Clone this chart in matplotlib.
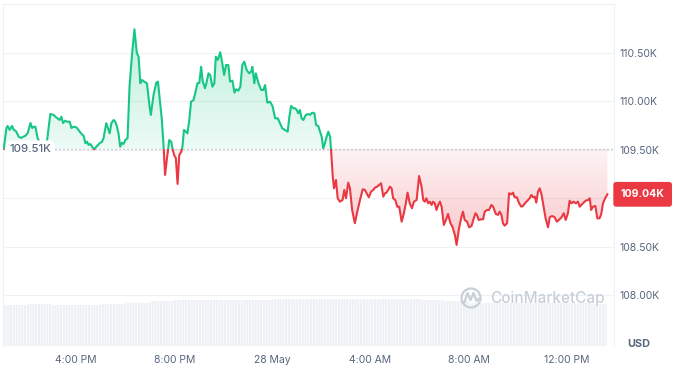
import numpy as np
import matplotlib
matplotlib.use('Agg')
import matplotlib.pyplot as plt
from matplotlib.path import Path
from matplotlib.patches import Rectangle, Circle
from matplotlib.lines import Line2D
from matplotlib.transforms import blended_transform_factory, Affine2D

plt.rcParams['font.family'] = ['Inter', 'DejaVu Sans']
plt.rcParams['hatch.linewidth'] = 0.5

# hora del dia (27 May = 0-24, 28 May = 24-48) y precio BTC en USD
hours = [13.04, 13.15, 13.20, 13.28, 13.38, 13.45, 13.52, 13.58, 13.65, 13.75,
         13.83, 13.92, 14.02, 14.13, 14.20, 14.26, 14.33, 14.42, 14.57, 14.70,
         14.81, 14.94, 15.08, 15.14, 15.21, 15.32, 15.39, 15.46, 15.55, 15.62,
         15.73, 15.80, 15.89, 16.00, 16.09, 16.19, 16.30, 16.37, 16.44, 16.50,
         16.57, 16.64, 16.73, 16.84, 16.95, 17.05, 17.11, 17.22, 17.27, 17.36,
         17.43, 17.52, 17.59, 17.66, 17.72, 17.79, 17.86, 17.93, 18.00, 18.09,
         18.17, 18.27, 18.37, 18.47, 18.54, 18.61, 18.68, 18.77, 18.88, 18.99,
         19.04, 19.15, 19.26, 19.33, 19.42, 19.49, 19.56, 19.62, 19.69, 19.79,
         19.87, 19.92, 19.99, 20.06, 20.13, 20.20, 20.28, 20.33, 20.39, 20.47,
         20.53, 20.60, 20.68, 20.78, 20.85, 20.94, 21.02, 21.09, 21.16, 21.25,
         21.32, 21.39, 21.46, 21.55, 21.63, 21.69, 21.77, 21.87, 21.93, 22.03,
         22.11, 22.20, 22.27, 22.37, 22.45, 22.52, 22.61, 22.69, 22.77, 22.85,
         22.95, 23.05, 23.13, 23.18, 23.26, 23.32, 23.43, 23.54, 23.63, 23.70,
         23.79, 23.90, 24.00, 24.11, 24.22, 24.31, 24.40, 24.51, 24.62, 24.69,
         24.76, 24.85, 24.92, 24.99, 25.05, 25.12, 25.19, 25.26, 25.36, 25.46,
         25.53, 25.62, 25.71, 25.78, 25.87, 25.94, 26.01, 26.07, 26.14, 26.21,
         26.28, 26.35, 26.39, 26.46, 26.51, 26.59, 26.66, 26.75, 26.86, 26.93,
         27.00, 27.09, 27.16, 27.25, 27.36, 27.46, 27.57, 27.68, 27.77, 27.84,
         27.93, 28.02, 28.11, 28.18, 28.27, 28.35, 28.43, 28.52, 28.59, 28.65,
         28.72, 28.79, 28.86, 28.92, 29.01, 29.09, 29.17, 29.27, 29.36, 29.44,
         29.51, 29.60, 29.69, 29.77, 29.88, 29.98, 30.08, 30.15, 30.21, 30.28,
         30.35, 30.42, 30.49, 30.55, 30.62, 30.69, 30.76, 30.83, 30.90, 30.99,
         31.10, 31.16, 31.26, 31.34, 31.44, 31.51, 31.61, 31.71, 31.77, 31.84,
         31.94, 32.02, 32.12, 32.21, 32.28, 32.34, 32.41, 32.52, 32.59, 32.66,
         32.75, 32.83, 32.93, 33.00, 33.11, 33.20, 33.27, 33.34, 33.40, 33.47,
         33.57, 33.65, 33.75, 33.81, 33.88, 33.97, 34.06, 34.15, 34.22, 34.32,
         34.40, 34.49, 34.56, 34.63, 34.70, 34.76, 34.83, 34.90, 34.97, 35.06,
         35.14, 35.24, 35.31, 35.40, 35.51, 35.60, 35.68, 35.78, 35.88, 35.96,
         36.05, 36.12, 36.19, 36.28, 36.37, 36.46, 36.53, 36.60, 36.66, 36.77,
         36.87, 36.94, 37.00, 37.07, 37.17, 37.25, 37.34, 37.41, 37.48, 37.57,
         37.66]

prices = [109510, 109725, 109746, 109705, 109746, 109705, 109697, 109674, 109635, 109622,
          109635, 109643, 109674, 109777, 109725, 109736, 109739, 109622, 109539, 109560,
          109601, 109870, 109860, 109842, 109829, 109808, 109842, 109777, 109801, 109790,
          109790, 109725, 109739, 109732, 109705, 109670, 109643, 109567, 109584, 109550,
          109560, 109532, 109505, 109539, 109567, 109584, 109619, 109774, 109739, 109670,
          109774, 109808, 109790, 109739, 109670, 109532, 109573, 109560, 109601, 109619,
          110152, 110479, 110745, 110497, 110462, 110187, 110221, 110204, 110187, 109945,
          109860, 110066, 110193, 110204, 109980, 109808, 109532, 109240, 109395, 109601,
          109584, 109515, 109446, 109412, 109147, 109446, 109480, 109532, 109705, 109687,
          109670, 109790, 109997, 110014, 110084, 110187, 110193, 110358, 110204, 110135,
          110204, 110290, 110273, 110152, 110187, 110462, 110428, 110507, 110428, 110273,
          110376, 110376, 110204, 110214, 110090, 110125, 110111, 110152, 110376, 110410,
          110324, 110290, 110307, 110358, 110187, 110290, 110187, 110118, 110118, 110169,
          109987, 109997, 109953, 109825, 109825, 109774, 109722, 109705, 109687, 109842,
          109953, 109929, 109929, 109911, 109877, 109911, 109825, 109808, 109860, 109870,
          109860, 109883, 109877, 109756, 109746, 109687, 109635, 109515, 109567, 109635,
          109687, 109635, 109498, 109222, 109102, 109188, 108999, 108964, 108981, 109085,
          108999, 109160, 109102, 108878, 108741, 108861, 108981, 109092, 109085, 109051,
          109009, 109067, 109085, 109109, 109119, 109136, 109154, 109016, 109051, 109057,
          109085, 109119, 109102, 108999, 108981, 108912, 108912, 108757, 108844, 108947,
          109057, 108947, 108896, 108964, 108981, 109229, 109119, 108981, 108964, 108999,
          108947, 108964, 108930, 108964, 108947, 108878, 108930, 108964, 108912, 108723,
          108792, 108837, 108741, 108706, 108620, 108517, 108689, 108809, 108861, 108775,
          108757, 108699, 108713, 108792, 108844, 108827, 108775, 108782, 108782, 108861,
          108878, 108878, 108930, 108912, 108837, 108827, 108861, 108827, 108741, 108716,
          108741, 109051, 109040, 109057, 109009, 109009, 108947, 108912, 108920, 108954,
          108974, 108999, 109033, 109009, 109016, 108954, 109067, 109102, 109043, 108912,
          108792, 108699, 108803, 108816, 108803, 108757, 108775, 108799, 108844, 108775,
          108844, 108974, 108947, 108964, 108947, 108964, 108912, 108930, 108947, 108974,
          108981, 108999, 108878, 108912, 108920, 108792, 108792, 108837, 108947, 108999,
          109040]

# volumen 24h (mil millones USD) por hora
vol_hours = list(range(13, 38))
volumes = [41.0, 41.5, 41.3, 41.0, 41.7, 43.0, 44.8, 46.0, 46.2, 46.0,
           46.3, 46.5, 46.5, 47.0, 47.0, 47.0, 47.0, 46.0, 45.0, 43.0,
           43.0, 43.0, 42.5, 42.5, 42.0]

y_ticks = [108000, 108500, 109000, 109500, 110000, 110500]
x_ticks = [16, 20, 24, 28, 32, 36]
x_labels = ['4:00 PM', '8:00 PM', '28 May', '4:00 AM', '8:00 AM', '12:00 PM']

GREEN = '#16c784'
RED = '#ea3943'
GREY = '#58667e'
GRID = '#eff2f5'

t = np.array(hours)
p = np.array(prices, dtype=float)
base = p[0]
xlim = (13.01, 37.93)
ylim = (107473, 111006)

W, H = 688, 381
fig = plt.figure(figsize=(W / 100, H / 100), dpi=100)
rect = [3 / W, 1 - 346 / H, 611 / W, 342 / H]
ax_vol = fig.add_axes(rect)
ax = fig.add_axes(rect)
ax.patch.set_visible(False)

# barras de volumen
vh = np.array(vol_hours, dtype=float)
widths = np.clip(t[-1] - vh, 0, 1)
ax_vol.bar(vh, volumes, width=widths, align='edge', color='#edf0f4',
           edgecolor='white', linewidth=0, hatch='||||||')
ax_vol.set_xlim(xlim)
ax_vol.set_ylim(0, max(volumes) / 0.1375)
ax_vol.axis('off')


def gradient_fill(above, rgb, a_base, a_far):
    if above:
        coll = ax.fill_between(t, p, base, where=p >= base, interpolate=True,
                               facecolor='none', edgecolor='none')
        lo, hi = base, p.max()
        alphas = np.linspace(a_base, a_far, 256)
    else:
        coll = ax.fill_between(t, p, base, where=p <= base, interpolate=True,
                               facecolor='none', edgecolor='none')
        lo, hi = p.min(), base
        alphas = np.linspace(a_far, a_base, 256)
    grad = np.zeros((256, 1, 4))
    grad[:, 0, :3] = rgb
    grad[:, 0, 3] = alphas
    img = ax.imshow(grad, extent=[t[0], t[-1], lo, hi], origin='lower',
                    aspect='auto', interpolation='bilinear', zorder=1)
    path = Path.make_compound_path(*coll.get_paths())
    img.set_clip_path(path, transform=ax.transData)


gradient_fill(True, np.array([22, 199, 132]) / 255, 0.08, 0.28)
gradient_fill(False, np.array([234, 57, 67]) / 255, 0.06, 0.28)

# linea verde arriba de la referencia, roja abajo
for color, y0, y1 in [(GREEN, base, ylim[1] + 1e4), (RED, ylim[0] - 1e4, base)]:
    ln, = ax.plot(t, p, color=color, lw=1.5, solid_joinstyle='round', zorder=4)
    ln.set_clip_path(Rectangle((xlim[0], y0), xlim[1] - xlim[0], y1 - y0,
                               transform=ax.transData))

ax.axhline(base, color='#9aa3b2', lw=0.8, ls=(0, (1, 2.6)), zorder=3)

trans = blended_transform_factory(ax.transAxes, ax.transData)
ax.text(0.0105, base, f'{base / 1000:.2f}K', transform=trans, ha='left', va='center',
        color=GREY, fontsize=8.2, fontweight='medium', zorder=6,
        bbox=dict(boxstyle='round,pad=0.3,rounding_size=0.5', fc='white', ec='none'))
ax.text(1.011, p[-1], f'{p[-1] / 1000:.2f}K', transform=trans, ha='left', va='center',
        color='white', fontsize=7.6, fontweight='bold', zorder=10, clip_on=False,
        bbox=dict(boxstyle='round,pad=0.7,rounding_size=0.3', fc=RED, ec='none'))

# la etiqueta del ultimo precio tapa la marca mas cercana
y_labels = ['' if abs(v - p[-1]) < 150 else f'{v / 1000:.2f}K' for v in y_ticks]

ax.set_xlim(xlim)
ax.set_ylim(ylim)
ax.set_yticks(y_ticks, y_labels)
ax.yaxis.tick_right()
ax.set_xticks(x_ticks, x_labels)
ax.tick_params(axis='y', length=0, pad=4.3, labelsize=7.5, labelcolor=GREY)
ax.tick_params(axis='x', length=0, pad=6.3, labelsize=7.5, labelcolor=GREY)
ax.grid(axis='y', color=GRID, lw=0.8)
ax.set_axisbelow(True)
for s in ['top', 'left', 'right']:
    ax.spines[s].set_color(GRID)
    ax.spines[s].set_linewidth(0.8)
ax.spines['bottom'].set_visible(False)

fig.text(639 / W, 1 - 344 / H, 'USD', ha='center', va='center', fontsize=7.8,
         fontweight='bold', color=GREY)

# marca de agua
px = Affine2D().scale(1, -1).translate(0, H)
WM = '#c8cfd9'
fig.add_artist(Circle((471, 298), 9.5, transform=px, fill=False, ec=WM, lw=1.6))
fig.add_artist(Line2D([464.5, 467.5, 470.5, 473.5, 476.5, 478.5],
                      [302, 293, 300, 293, 301, 299], transform=px, color=WM, lw=1.6,
                      solid_joinstyle='round'))
fig.text(490 / W, 1 - 298 / H, 'CoinMarketCap', ha='left', va='center', fontsize=11,
         color=WM, fontweight='medium')

fig.savefig('out.png', dpi=100)
